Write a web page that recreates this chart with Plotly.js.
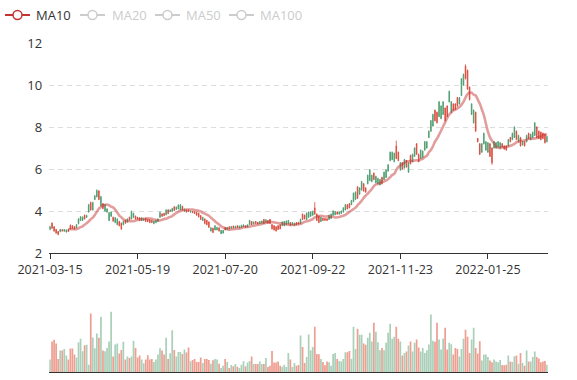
<!DOCTYPE html>
<html>
<head>
<meta charset="utf-8">
<script src="https://cdn.plot.ly/plotly-3.0.1.min.js"></script>
<style>html,body{margin:0;padding:0;background:#fff;}#chart{width:577px;height:380px;}</style>
</head>
<body>
<div id="chart"></div>
<script>
// tick labels (trading-day index -> date)
const tickIdx = [0, 43, 86, 129, 172, 215];
const tickLabels = ['2021-03-15', '2021-05-19', '2021-07-20', '2021-09-22', '2021-11-23', '2022-01-25'];
const legendNames = ['MA10', 'MA20', 'MA50', 'MA100'];

const open = [
3.25,3.18,3.05,2.95,2.88,3.12,3.05,3.12,3.10,3.02,
3.14,3.18,3.15,3.35,3.62,3.72,3.72,3.62,3.78,4.30,
4.05,4.40,4.72,4.98,4.55,4.68,4.12,4.30,4.10,3.92,
3.95,3.52,3.68,3.62,3.30,3.15,3.50,3.42,3.62,3.58,
3.95,3.88,3.62,3.62,3.55,3.68,3.62,3.50,3.50,3.45,
3.45,3.52,3.55,3.62,3.92,3.75,3.78,4.05,3.88,4.05,
4.12,4.02,4.18,4.28,4.30,4.05,4.08,3.95,3.98,4.00,
3.92,3.88,3.80,3.72,3.60,3.70,3.40,3.35,3.22,3.20,
2.98,3.30,3.22,3.05,3.08,3.08,3.10,3.22,3.15,3.26,
3.20,3.27,3.22,3.28,3.32,3.34,3.22,3.34,3.55,3.35,
3.48,3.40,3.38,3.50,3.52,3.40,3.58,3.42,3.40,3.15,
3.10,3.05,3.12,3.15,3.48,3.50,3.52,3.55,3.32,3.45,
3.42,3.35,3.38,3.60,3.60,3.62,3.90,3.95,3.95,3.98,
3.85,3.55,3.45,3.70,3.55,3.56,3.55,3.80,3.85,4.00,
3.98,3.85,3.95,4.00,4.15,4.30,4.10,4.15,4.50,4.85,
4.90,4.60,5.10,5.40,4.95,4.90,5.70,5.95,5.70,5.50,
5.65,5.55,5.50,5.30,5.85,5.95,6.20,6.80,6.80,6.75,
6.50,6.40,6.30,6.00,6.45,6.10,6.30,6.25,6.70,7.00,
6.70,6.35,6.90,6.85,7.30,7.30,7.80,8.30,8.60,8.30,
8.20,9.20,9.00,9.20,8.30,8.50,9.70,9.20,8.80,8.85,
9.00,9.40,10.30,10.50,10.30,9.80,9.30,9.10,8.80,7.80,
7.30,6.70,7.20,7.70,7.30,7.25,6.60,6.30,7.30,7.25,
7.30,7.25,7.05,6.95,6.90,7.40,7.30,7.70,8.00,7.40,
7.60,7.10,7.30,7.10,7.60,7.45,7.65,7.75,8.20,7.50,
7.45,7.40,7.45,7.25,7.55];

const close = [
3.12,3.42,3.25,3.12,3.02,3.02,3.10,3.04,3.00,3.12,
3.32,3.30,3.25,3.20,3.40,3.55,3.55,3.80,3.70,3.95,
4.40,4.05,4.55,4.68,4.95,4.25,4.35,4.00,3.95,3.55,
3.75,3.70,3.45,3.35,3.50,3.42,3.35,3.55,3.48,3.70,
3.62,3.70,3.75,3.70,3.68,3.55,3.55,3.65,3.60,3.58,
3.55,3.40,3.45,3.50,3.70,3.85,3.88,3.82,4.05,3.98,
3.98,4.20,4.08,4.10,4.05,4.22,4.00,4.05,4.05,3.95,
3.98,3.96,3.93,3.90,3.78,3.55,3.62,3.55,3.48,3.05,
3.18,3.10,3.10,3.20,2.92,2.95,3.22,3.12,3.25,3.18,
3.28,3.20,3.30,3.20,3.22,3.25,3.30,3.24,3.35,3.50,
3.38,3.50,3.46,3.40,3.42,3.60,3.45,3.55,3.60,3.35,
3.30,3.25,3.30,3.35,3.30,3.30,3.35,3.38,3.45,3.35,
3.32,3.45,3.46,3.40,3.85,3.80,3.60,3.70,3.75,3.80,
4.15,3.85,3.75,3.50,3.65,3.64,3.63,3.60,3.65,3.80,
3.82,3.95,3.85,3.88,3.95,4.05,4.30,4.35,4.30,4.45,
4.55,5.15,4.80,5.00,5.30,5.10,5.30,5.45,5.40,5.80,
5.35,5.30,5.25,5.60,5.50,5.60,5.90,6.40,6.45,6.35,
7.10,6.80,5.95,6.30,6.05,6.40,5.85,6.65,6.35,6.60,
7.20,6.70,6.50,6.55,6.90,7.00,7.50,7.80,8.05,8.80,
8.70,8.50,8.40,8.60,8.90,9.00,9.20,8.70,9.10,9.10,
9.40,9.10,9.50,10.00,10.90,10.70,9.90,8.60,8.20,8.70,
7.45,7.20,6.80,7.20,6.90,6.80,7.20,7.00,7.00,7.00,
7.05,7.00,7.20,7.10,7.10,7.10,7.50,7.40,7.50,7.80,
7.30,7.50,7.15,7.30,7.30,7.70,7.40,7.50,7.60,8.00,
7.80,7.75,7.70,7.65,7.30];

const low = [
3.08,3.15,3.01,2.92,2.85,2.99,3.02,3.01,2.97,3.00,
3.12,3.16,3.12,3.18,3.36,3.52,3.52,3.60,3.67,3.92,
4.02,4.02,4.52,4.65,4.52,4.20,4.08,3.97,3.92,3.52,
3.72,3.49,3.42,3.32,3.27,3.10,3.32,3.40,3.45,3.55,
3.60,3.66,3.60,3.59,3.52,3.52,3.53,3.48,3.47,3.42,
3.42,3.37,3.42,3.48,3.68,3.72,3.75,3.80,3.85,3.95,
3.95,4.00,4.05,4.08,4.02,4.02,3.97,3.93,3.95,3.92,
3.90,3.86,3.78,3.70,3.57,3.52,3.37,3.32,3.20,3.02,
2.95,3.08,3.08,3.02,2.90,2.93,3.08,3.10,3.13,3.16,
3.18,3.18,3.20,3.18,3.20,3.23,3.20,3.22,3.33,3.33,
3.36,3.38,3.36,3.38,3.40,3.38,3.43,3.40,3.38,3.12,
3.07,3.02,3.10,3.13,3.28,3.28,3.33,3.36,3.30,3.33,
3.30,3.33,3.36,3.38,3.58,3.60,3.58,3.68,3.73,3.78,
3.83,3.52,3.42,3.48,3.53,3.54,3.53,3.58,3.63,3.78,
3.80,3.83,3.83,3.86,3.93,4.03,4.08,4.13,4.28,4.42,
4.52,4.57,4.77,4.97,4.92,4.87,5.27,5.42,5.37,5.47,
5.32,5.27,5.22,5.27,5.47,5.57,5.87,6.37,6.42,6.32,
6.47,6.37,5.92,5.97,6.02,6.07,5.82,6.22,6.32,6.57,
6.67,6.32,6.47,6.52,6.87,6.97,7.47,7.77,8.02,8.27,
8.17,8.47,8.37,8.57,8.27,8.47,9.17,8.67,8.77,8.82,
8.97,9.07,9.47,9.97,10.27,9.77,9.27,8.57,8.17,7.77,
7.27,6.67,6.77,7.17,6.87,6.77,6.57,6.20,6.97,6.97,
7.02,6.97,7.02,6.92,6.87,7.07,7.27,7.37,7.47,7.37,
7.27,7.07,7.12,7.07,7.27,7.42,7.37,7.47,7.57,7.47,
7.42,7.37,7.42,7.22,7.27];

const high = [
3.30,3.46,3.28,3.15,3.05,3.15,3.13,3.14,3.12,3.14,
3.36,3.33,3.28,3.38,3.66,3.76,3.74,3.83,3.82,4.34,
4.45,4.44,4.76,5.03,4.99,4.72,4.38,4.33,4.13,3.95,
3.98,3.73,3.71,3.65,3.53,3.45,3.53,3.58,3.65,3.73,
4.02,3.92,3.78,3.72,3.70,3.70,3.65,3.67,3.62,3.60,
3.57,3.55,3.58,3.65,3.98,3.90,3.92,4.08,4.08,4.08,
4.15,4.23,4.22,4.32,4.33,4.25,4.12,4.08,4.07,4.02,
4.00,3.98,3.95,3.92,3.80,3.72,3.65,3.58,3.50,3.23,
3.20,3.32,3.25,3.22,3.10,3.10,3.24,3.24,3.27,3.28,
3.30,3.29,3.32,3.30,3.34,3.36,3.32,3.36,3.58,3.52,
3.50,3.52,3.48,3.52,3.54,3.62,3.60,3.57,3.62,3.37,
3.32,3.27,3.32,3.37,3.50,3.52,3.55,3.57,3.47,3.47,
3.44,3.47,3.48,3.63,3.88,3.83,3.93,3.98,3.98,4.02,
4.42,3.88,3.78,3.72,3.67,3.66,3.65,3.82,3.88,4.03,
4.00,3.97,3.97,4.02,4.18,4.33,4.32,4.38,4.53,4.88,
4.93,5.18,5.13,5.43,5.33,5.13,5.73,6.00,5.73,5.83,
5.68,5.58,5.53,5.63,5.88,5.98,6.23,6.83,6.83,6.78,
7.35,6.83,6.33,6.33,6.48,6.43,6.33,6.68,6.73,7.03,
7.23,6.73,6.93,6.88,7.33,7.33,7.83,8.33,8.63,8.83,
8.73,9.23,9.03,9.23,8.93,9.03,9.73,9.23,9.13,9.13,
9.43,9.43,10.33,10.55,10.98,10.73,9.93,9.13,8.83,8.73,
7.48,7.23,7.23,7.73,7.33,7.28,7.23,7.03,7.33,7.28,
7.33,7.28,7.23,7.13,7.13,7.43,7.53,7.73,8.03,7.83,
7.63,7.53,7.33,7.33,7.63,7.73,7.68,7.78,8.23,8.03,
7.83,7.78,7.73,7.68,7.58];

const volume = [
18.5,45.5,48,42.5,19.5,32,32,34.5,24.5,18.5,
35,35,26,21.5,44.5,49.5,31,40,40.5,11,
87.5,51.5,35.5,57.5,51,82.5,32,31,36,45.5,
90,23,41,42.5,27.5,33,45,18.5,23,21,
23,46.5,36,21.5,24.5,18.5,13,18.5,25,18.5,
19.5,15,18.5,26,35.5,32,26,51,19.5,28,
62.5,33,23,30,30,27,33.5,29,36.5,16,
18,19.5,15,15,21.5,13.5,19.5,19.5,18,12.5,
17.5,19.5,18.5,12.5,6,9.5,19.5,15,6,10.5,
8.5,12,8,6,11,16,8.5,14,16.5,23,
12,12,12,15.5,12,12,21,7.5,9.5,31.5,
14,14,15.5,9.5,8,11,7.5,28.5,18.5,7.5,
13.5,9.5,10.5,54.5,37.5,13.5,22.5,56,32.5,37.5,
67.5,27,26.5,19.5,15,10,15.5,14.5,9.5,27,
28.5,19.5,16.5,15.5,19.5,29.5,29.5,31.5,19.5,67.5,
34.5,64.5,55.5,55.5,42.5,40.5,51,58.5,45.5,73.5,
60,44.5,32.5,36,32.5,43.5,58.5,72,49.5,52.5,
67.5,49.5,45.5,24.5,28.5,30.5,39.5,45.5,30.5,43.5,
48.5,36.5,30.5,36,28.5,32.5,41,86,46.5,45,
73.5,48.5,33.5,50,66,33.5,43.5,41.5,26,36,
34.5,23,34.5,49.5,63,52.5,28.5,48.5,66,36,
27.5,46,17,26,26,22.5,17,14.5,18.5,15.5,
14.5,18,10.5,10,11,24.5,15.5,15,23.5,24.5,
12.5,28.5,13.5,9.5,32,15.5,15.5,22.5,30.5,22.5,
20,14.5,15.5,16.5,11];

const UP = '#d9483b', DOWN = '#4a9a6c';
const UP_VOL = '#ee9f92', DOWN_VOL = '#abd0b9';
const MA_COLOR = '#c23531';

const idx = open.map((_, i) => i);

// MA10 from closing prices
const maX = [], maY = [];
for (let i = 9; i < close.length; i++) {
  let s = 0;
  for (let k = i - 9; k <= i; k++) s += close[k];
  maX.push(i); maY.push(s / 10);
}

const volColors = idx.map(i => close[i] > open[i] ? UP_VOL : DOWN_VOL);

const traces = [
  {
    type: 'candlestick', x: idx, open: open, high: high, low: low, close: close,
    xaxis: 'x', yaxis: 'y',
    increasing: {line: {color: UP, width: 0.8}, fillcolor: UP},
    decreasing: {line: {color: DOWN, width: 0.8}, fillcolor: DOWN},
    whiskerwidth: 0, hoverinfo: 'none', showlegend: false
  },
  {
    type: 'scatter', mode: 'lines', x: maX, y: maY, xaxis: 'x', yaxis: 'y',
    line: {color: 'rgba(194,53,49,0.48)', width: 2.6, shape: 'spline', smoothing: 1},
    hoverinfo: 'none', showlegend: false, name: legendNames[0]
  },
  {
    type: 'bar', x: idx, y: volume, xaxis: 'x2', yaxis: 'y2',
    marker: {color: volColors, line: {width: 0}},
    hoverinfo: 'none', showlegend: false
  }
];

const W = 577, H = 380;
const px = v => v / W, py = v => 1 - v / H;
const dom = [px(49.2), px(547.8)];
const xr = [-0.4, 244.4];
const font = 'Open Sans, Noto Sans, sans-serif';

// legend drawn as shapes + text
const legendItems = [
  {name: legendNames[0], x0: 5, x1: 30, tx: 34, color: MA_COLOR, text: '#333'},
  {name: legendNames[1], x0: 80, x1: 105, tx: 110, color: '#cccccc', text: '#cccccc'},
  {name: legendNames[2], x0: 155, x1: 180, tx: 184, color: '#cccccc', text: '#cccccc'},
  {name: legendNames[3], x0: 229, x1: 254, tx: 258, color: '#cccccc', text: '#cccccc'}
];
const ly = 15;
const shapes = [], annotations = [];
legendItems.forEach(it => {
  shapes.push({type: 'line', xref: 'paper', yref: 'paper', x0: px(it.x0), x1: px(it.x1), y0: py(ly), y1: py(ly),
    line: {color: it.color, width: 2}});
  const cx = (it.x0 + it.x1) / 2, r = 4.5;
  shapes.push({type: 'circle', xref: 'paper', yref: 'paper', x0: px(cx - r), x1: px(cx + r), y0: py(ly + r), y1: py(ly - r),
    fillcolor: '#ffffff', line: {color: it.color, width: 1.5}});
  annotations.push({xref: 'paper', yref: 'paper', x: px(it.tx), y: py(ly), xanchor: 'left', yanchor: 'middle',
    text: it.name, showarrow: false, font: {family: font, size: 13, color: it.text}});
});

const layout = {
  width: W, height: H, margin: {l: 0, r: 0, t: 0, b: 0},
  paper_bgcolor: '#ffffff', plot_bgcolor: '#ffffff', showlegend: false,
  xaxis: {
    domain: dom, range: xr, anchor: 'y', type: 'linear',
    tickmode: 'array', tickvals: tickIdx, ticktext: tickLabels,
    ticks: 'outside', ticklen: 5, tickcolor: '#333', tickwidth: 1,
    showline: true, linecolor: '#333', linewidth: 1, showgrid: false, zeroline: false,
    tickfont: {family: font, size: 12.5, color: '#333'},
    rangeslider: {visible: false}, fixedrange: true
  },
  yaxis: {
    domain: [py(253), py(43)], range: [2, 12], tickmode: 'linear', tick0: 2, dtick: 2,
    showgrid: true, gridcolor: '#dddddd', griddash: '5px,4px', gridwidth: 1,
    showline: false, zeroline: false, ticks: '',
    tickfont: {family: font, size: 13, color: '#333'}, ticklabelstandoff: 6, fixedrange: true
  },
  xaxis2: {
    domain: dom, range: xr, anchor: 'y2', type: 'linear',
    showline: true, linecolor: '#333', linewidth: 1, showgrid: false, zeroline: false,
    showticklabels: false, ticks: '', fixedrange: true
  },
  yaxis2: {
    domain: [py(372), py(305)], range: [0, 100], visible: false, fixedrange: true
  },
  boxgap: 0.55,
  bargap: 0.15,
  shapes: shapes, annotations: annotations
};

Plotly.newPlot('chart', traces, layout, {staticPlot: true, displayModeBar: false});
</script>
</body>
</html>
